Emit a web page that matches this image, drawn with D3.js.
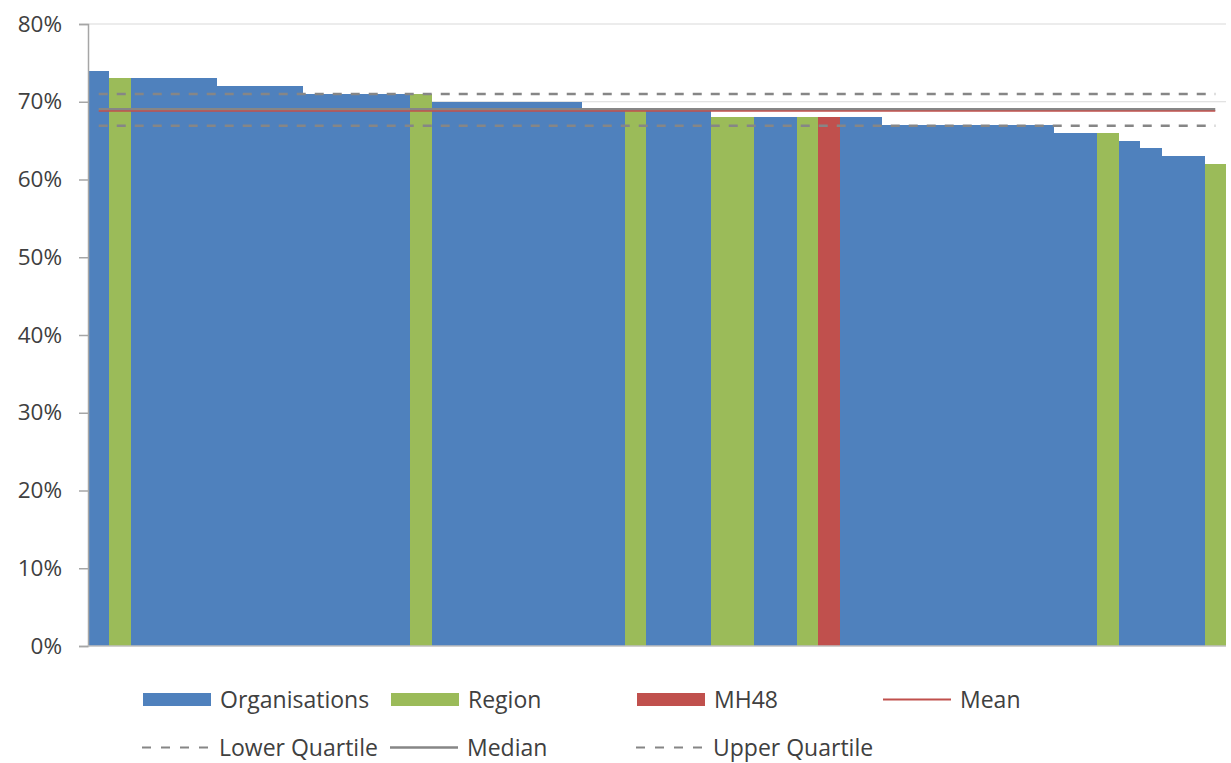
<!DOCTYPE html>
<html>
<head>
<meta charset="utf-8">
<script src="https://cdn.jsdelivr.net/npm/d3@7"></script>
<style>
  html, body { margin: 0; padding: 0; background: #fff; }
  svg { display: block; }
  text { font-family: "Open Sans", Lato, sans-serif; fill: #404040; }
</style>
</head>
<body>
<svg id="chart" width="1231" height="763"></svg>
<script>
// One bar per organisation, sorted from highest to lowest share.
const barValues = [
  0.74, 0.73, 0.73, 0.73, 0.73, 0.73, 0.72, 0.72, 0.72, 0.72,
  0.71, 0.71, 0.71, 0.71, 0.71, 0.71, 0.70, 0.70, 0.70, 0.70,
  0.70, 0.70, 0.70, 0.69, 0.69, 0.69, 0.69, 0.69, 0.69, 0.68,
  0.68, 0.68, 0.68, 0.68, 0.68, 0.68, 0.68, 0.67, 0.67, 0.67,
  0.67, 0.67, 0.67, 0.67, 0.67, 0.66, 0.66, 0.66, 0.65, 0.64,
  0.63, 0.63, 0.62
];
// Which series each bar belongs to (O = Organisations, R = Region, M = MH48).
const barGroups = [
  "O", "R", "O", "O", "O", "O", "O", "O", "O", "O",
  "O", "O", "O", "O", "O", "R", "O", "O", "O", "O",
  "O", "O", "O", "O", "O", "R", "O", "O", "O", "R",
  "R", "O", "O", "R", "M", "O", "O", "O", "O", "O",
  "O", "O", "O", "O", "O", "O", "O", "R", "O", "O",
  "O", "O", "R"
];

// Summary statistics drawn across all bars.
const meanValue = 0.688;
const medianValue = 0.69;
const lowerQuartile = 0.669;
const upperQuartile = 0.71;

const yTicks = [0, 0.1, 0.2, 0.3, 0.4, 0.5, 0.6, 0.7, 0.8];

const seriesNames = { O: "Organisations", R: "Region", M: "MH48" };
const seriesColors = { O: "#4F81BD", R: "#9BBB59", M: "#C0504D" };
const meanColor = "#C0504D";
const statGray = "#868686";

const svg = d3.select("#chart");
const plot = { left: 88, right: 1226, top: 24, bottom: 646 };

const x = d3.scaleBand()
  .domain(d3.range(barValues.length))
  .range([plot.left, plot.right])
  .paddingInner(0)
  .paddingOuter(0);

const y = d3.scaleLinear()
  .domain([0, 0.8])
  .range([plot.bottom, plot.top]);

// Horizontal gridlines behind the bars
svg.append("g")
  .selectAll("line")
  .data(yTicks.slice(1))
  .join("line")
  .attr("x1", plot.left)
  .attr("x2", plot.right)
  .attr("y1", d => y(d))
  .attr("y2", d => y(d))
  .attr("stroke", "#D9D9D9")
  .attr("stroke-width", 1);

// Bars, drawn edge to edge
svg.append("g")
  .attr("shape-rendering", "crispEdges")
  .selectAll("rect")
  .data(barValues)
  .join("rect")
  .attr("x", (d, i) => Math.round(x(i)))
  .attr("width", (d, i) => Math.round(x(i) + x.bandwidth()) - Math.round(x(i)))
  .attr("y", d => y(d))
  .attr("height", d => y(0) - y(d))
  .attr("fill", (d, i) => seriesColors[barGroups[i]]);

// Statistic lines run from the first bar centre to the last bar centre
const xStart = x(0) + x.bandwidth() / 2;
const xEnd = x(barValues.length - 1) + x.bandwidth() / 2;

const statLines = [
  { value: upperQuartile, color: statGray, width: 2.5, dash: "9,9" },
  { value: lowerQuartile, color: statGray, width: 2.5, dash: "9,9" },
  { value: medianValue, color: statGray, width: 3, dash: null },
  { value: meanValue, color: meanColor, width: 1.5, dash: null }
];

svg.append("g")
  .selectAll("line")
  .data(statLines)
  .join("line")
  .attr("x1", xStart)
  .attr("x2", xEnd)
  .attr("y1", d => y(d.value))
  .attr("y2", d => y(d.value))
  .attr("stroke", d => d.color)
  .attr("stroke-width", d => d.width)
  .attr("stroke-dasharray", d => d.dash);

// Y axis
const yAxis = svg.append("g")
  .attr("transform", `translate(${plot.left},0)`)
  .call(d3.axisLeft(y)
    .tickValues(yTicks)
    .tickFormat(d3.format(".0%"))
    .tickSize(9)
    .tickPadding(17));
yAxis.select(".domain").attr("stroke", "#A6A6A6").attr("stroke-width", 1.5);
yAxis.selectAll(".tick line").attr("stroke", "#A6A6A6").attr("stroke-width", 1.5);
yAxis.selectAll(".tick text")
  .attr("font-family", "'Open Sans', sans-serif")
  .attr("font-size", 22.5)
  .attr("fill", "#404040");

// X baseline
svg.append("line")
  .attr("x1", plot.left)
  .attr("x2", plot.right)
  .attr("y1", y(0))
  .attr("y2", y(0))
  .attr("stroke", "#BFBFBF")
  .attr("stroke-width", 1.5);

// Legend
const legendItems = [
  { label: seriesNames.O, kind: "rect", color: seriesColors.O, x: 143, row: 0 },
  { label: seriesNames.R, kind: "rect", color: seriesColors.R, x: 391, row: 0 },
  { label: seriesNames.M, kind: "rect", color: seriesColors.M, x: 637, row: 0 },
  { label: "Mean", kind: "line", color: meanColor, width: 2, x: 883, row: 0 },
  { label: "Lower Quartile", kind: "dash", color: statGray, width: 2, x: 142, row: 1 },
  { label: "Median", kind: "line", color: statGray, width: 2.5, x: 390, row: 1 },
  { label: "Upper Quartile", kind: "dash", color: statGray, width: 2, x: 636, row: 1 }
];
const rowY = [699.5, 747.5];
const swatchW = 68;

const legend = svg.append("g");
legendItems.forEach(item => {
  const cy = rowY[item.row];
  if (item.kind === "rect") {
    legend.append("rect")
      .attr("x", item.x).attr("y", cy - 6.5)
      .attr("width", swatchW).attr("height", 13)
      .attr("fill", item.color);
  } else {
    legend.append("line")
      .attr("x1", item.x).attr("x2", item.x + swatchW)
      .attr("y1", cy).attr("y2", cy)
      .attr("stroke", item.color)
      .attr("stroke-width", item.width)
      .attr("stroke-dasharray", item.kind === "dash" ? "9,10" : null);
  }
  legend.append("text")
    .attr("x", item.x + swatchW + 9)
    .attr("y", cy)
    .attr("dy", "0.36em")
    .attr("font-size", 23)
    .text(item.label);
});
</script>
</body>
</html>
